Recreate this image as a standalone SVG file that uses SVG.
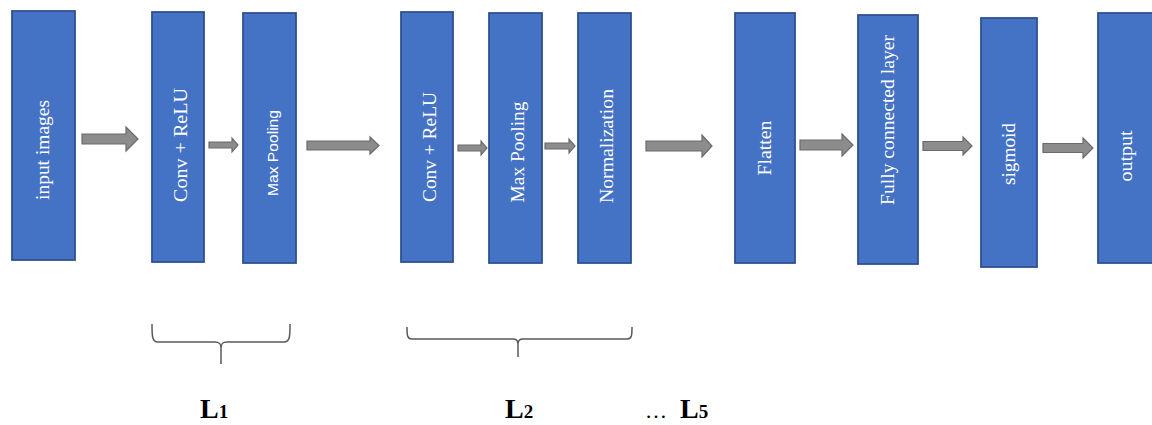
<svg xmlns="http://www.w3.org/2000/svg" width="1152" height="425" viewBox="0 0 1152 425">
<style>
.box{fill:#4472C4;stroke:#2F528F;stroke-width:1.8}
.lbl{fill:#ffffff;font-family:"Liberation Serif",serif;font-size:18px;text-anchor:middle;dominant-baseline:central}
.sans{font-family:"Liberation Sans",sans-serif;font-size:15px}
.arrow{fill:#8C8C8C;stroke:#6A6A6A;stroke-width:1.2}
.brace{fill:none;stroke:#595959;stroke-width:1.5}
.L{font-family:"Liberation Serif",serif;font-weight:bold;font-size:28px;fill:#000}
</style>
<rect width="1152" height="425" fill="#ffffff"/>
<g id="n-input"><rect class="box" x="12" y="11" width="63" height="249"/><text class="lbl" transform="translate(43,150) rotate(-90)" textLength="100" lengthAdjust="spacingAndGlyphs">input images</text></g>
<g id="n-conv1"><rect class="box" x="152" y="12" width="52" height="250"/><text class="lbl" transform="translate(181,145) rotate(-90)" textLength="114" lengthAdjust="spacingAndGlyphs">Conv + ReLU</text></g>
<g id="n-pool1"><rect class="box" x="243" y="13" width="53" height="250"/><text class="lbl sans" transform="translate(272,153) rotate(-90)" textLength="86" lengthAdjust="spacingAndGlyphs">Max Pooling</text></g>
<g id="n-conv2"><rect class="box" x="401" y="12" width="52" height="250"/><text class="lbl" transform="translate(430,147) rotate(-90)" textLength="110" lengthAdjust="spacingAndGlyphs">Conv + ReLU</text></g>
<g id="n-pool2"><rect class="box" x="489" y="13" width="53" height="250"/><text class="lbl" transform="translate(518,152) rotate(-90)" textLength="101" lengthAdjust="spacingAndGlyphs">Max Pooling</text></g>
<g id="n-norm"><rect class="box" x="578" y="13" width="53" height="250"/><text class="lbl" transform="translate(607,146) rotate(-90)" textLength="114" lengthAdjust="spacingAndGlyphs">Normalization</text></g>
<g id="n-flatten"><rect class="box" x="735" y="13" width="60" height="250"/><text class="lbl" transform="translate(765,148) rotate(-90)" textLength="55" lengthAdjust="spacingAndGlyphs">Flatten</text></g>
<g id="n-fc"><rect class="box" x="858" y="15" width="60" height="249"/><text class="lbl" transform="translate(888,120) rotate(-90)" textLength="170" lengthAdjust="spacingAndGlyphs">Fully connected layer</text></g>
<g id="n-sigmoid"><rect class="box" x="981" y="18" width="56" height="249"/><text class="lbl" transform="translate(1009,154) rotate(-90)" textLength="62" lengthAdjust="spacingAndGlyphs">sigmoid</text></g>
<g id="n-output"><rect class="box" x="1098" y="13" width="58" height="250"/><text class="lbl" transform="translate(1126,156) rotate(-90)" textLength="51" lengthAdjust="spacingAndGlyphs">output</text></g>
<g id="connectors">
<polygon class="arrow" points="82,134 126,134 126,127 138,139 126,151 126,144 82,144"/>
<polygon class="arrow" points="209,142 232,142 232,138 238,145 232,152 232,148 209,148"/>
<polygon class="arrow" points="307,141 370,141 370,137 379,145.5 370,154 370,150 307,150"/>
<polygon class="arrow" points="458,145 481,145 481,141 487,148 481,155 481,151 458,151"/>
<polygon class="arrow" points="545,143 569,143 569,139 575,146 569,153 569,149 545,149"/>
<polygon class="arrow" points="646,141 702,141 702,135 712,146 702,157 702,151 646,151"/>
<polygon class="arrow" points="800,140 842,140 842,134 853,145 842,156 842,150 800,150"/>
<polygon class="arrow" points="923,141.5 963,141.5 963,137 972,146 963,155 963,150.5 923,150.5"/>
<polygon class="arrow" points="1043,143.5 1083,143.5 1083,138 1093,148 1083,158 1083,152.5 1043,152.5"/>
</g>
<g id="brace-L1">
<path class="brace" d="M152,324 C152,336 152,342 158,342 L215,342 C220,342 221,344 221,348 L221,364 M221,348 C221,344 222,342 227,342 L284,342 C290,342 290,336 290,324"/>
<text class="L" x="200" y="418">L<tspan font-size="19">1</tspan></text>
</g>
<g id="brace-L2">
<path class="brace" d="M407,327 C407,335 407,339 412,339 L513,339 C517,339 518,341 518,344 L518,357 M518,344 C518,341 519,339 523,339 L627,339 C632,339 632,335 632,327"/>
<text class="L" x="505" y="418">L<tspan font-size="19">2</tspan></text>
</g>
<g id="L5">
<text x="645" y="418" font-family="Liberation Serif,serif" font-size="22" fill="#000">…</text>
<text class="L" x="680" y="418">L<tspan font-size="19">5</tspan></text>
</g>
</svg>
